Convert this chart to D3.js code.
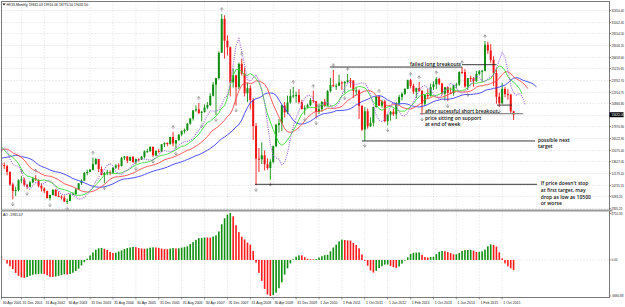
<!DOCTYPE html>
<html>
<head>
<meta charset="utf-8">
<script src="https://cdn.jsdelivr.net/npm/d3@7"></script>
<style>
  body { margin: 0; background: #fff; }
  svg { display: block; font-family: "Liberation Sans", Arial, sans-serif; }
</style>
</head>
<body>
<svg width="625" height="307"></svg>
<script>
// HK33 monthly bars, Jan 1998 .. Jan 2016 (estimated).
// 1998 .. Mar 2001 are off screen, they only give the indicators some history.
// The feed has 2 extra bars early 2010 and 2 bars for Jan 2016.
const opens = [
  10723, 9251, 11480, 11518, 10211, 8960, 8543, 7923, 7275, 7883, 10154, 10402,
  10049, 9506, 9858, 10942, 13089, 12712, 13532, 12849, 13532, 12733, 13256, 15377,
  16962, 15532, 17169, 17407, 15519, 14713, 16155, 16841, 17097, 15649, 14895, 14638,
  15096, 16102, 14788, 12761, 13386, 13174, 13043, 12316, 10767, 9951, 10073, 11279,
  11397, 10725, 10482, 11033, 11497, 11302, 10599, 10268, 9931, 9072, 9441, 10070,
  9321, 9258, 9123, 8634, 8717, 9487, 9577, 10134, 10909, 11229, 12190, 12317,
  12576, 13289, 13918, 12682, 11942, 12198, 12286, 12238, 12850, 13120, 13054, 14060,
  14230, 13721, 14195, 13516, 13908, 13868, 14201, 14880, 14903, 15429, 14386, 14937,
  14876, 15753, 15918, 15805, 16661, 15857, 16267, 16971, 17392, 17543, 18324, 18960,
  19965, 20106, 19652, 19801, 20318, 20635, 21773, 23185, 23984, 27142, 31352, 28643,
  27813, 23456, 24332, 22849, 25755, 24533, 22102, 22731, 21261, 18016, 13969, 13888,
  14387, 13278, 12811, 13576, 15521, 18171, 18378, 20573, 19724, 20955, 21752, 21821,
  21872, 21000, 20122, 20300, 20608, 21239, 21108, 19765, 20129, 21029, 20536, 22358, 23096, 23007,
  23035, 23447, 23338, 23528, 23720, 23684, 22398, 22440, 20535, 17592, 19864, 17989,
  18434, 20390, 21680, 20556, 21094, 18630, 19441, 19796, 19482, 20840, 21641, 22030,
  22657, 23730, 23020, 22300, 22737, 22392, 20803, 21883, 21731, 22860, 23206, 23881,
  23306, 22035, 22837, 22151, 22134, 23082, 23191, 24757, 24742, 22933, 23998, 23987,
  23605, 24507, 24823, 24901, 28133, 27424, 26250, 24636, 21671, 20846, 22640, 21996,
  21914, 19841
];
const highs = [
  11300, 11900, 11900, 11600, 10500, 9200, 8900, 8200, 8600, 10500, 10800, 10600,
  10200, 10300, 11100, 13200, 13400, 14000, 14000, 13700, 13800, 13300, 15500, 17000,
  18000, 17400, 18397, 17500, 15600, 16300, 17100, 17600, 17200, 15900, 15400, 15200,
  16300, 16200, 14800, 13500, 14000, 13500, 13200, 12400, 11000, 10500, 11400, 11800,
  11600, 10800, 11200, 11700, 11900, 11400, 10900, 10400, 10000, 9500, 10200, 10200,
  9900, 9400, 9400, 9000, 9600, 9800, 10300, 10900, 11400, 12300, 12600, 12700,
  14100, 14058, 13900, 13000, 12300, 12600, 12500, 12900, 13300, 13400, 14200, 14300,
  14300, 14200, 14300, 14000, 14000, 14300, 15000, 15200, 15500, 15500, 15000, 15200,
  15800, 16000, 16000, 16700, 17300, 16300, 17000, 17500, 17700, 18400, 19000, 20000,
  20600, 20900, 19900, 20700, 21000, 22100, 23500, 24000, 27300, 31958, 31800, 29300,
  27900, 25200, 24400, 25900, 26400, 25300, 23400, 23100, 21500, 18400, 15300, 16000,
  15000, 14000, 13900, 15600, 18300, 18900, 20700, 21000, 21800, 22600, 22900, 22300,
  22600, 21300, 20600, 20800, 21500, 22400, 21100, 20800, 21100, 21400, 22500, 24000, 24988, 23300,
  24400, 23600, 23600, 24500, 24000, 23700, 22900, 22600, 20600, 20400, 20200, 19100,
  20400, 21760, 21800, 21300, 21300, 19500, 19900, 20200, 21000, 21900, 22200, 22700,
  23800, 23900, 23300, 22800, 23500, 22500, 22000, 22600, 23300, 23600, 24100, 24000,
  23400, 22900, 22900, 22800, 23100, 23400, 24800, 25362, 25100, 23800, 24300, 24100,
  24900, 25000, 25000, 28588, 28500, 28200, 26700, 25200, 22200, 23400, 22900, 22600,
  22050, 19914
];
const lows = [
  8000, 9200, 10900, 10100, 8800, 7900, 7700, 6660, 7100, 7800, 9900, 9700,
  9100, 9300, 9800, 10900, 12300, 12400, 12600, 12500, 12400, 12300, 13200, 15000,
  15300, 15300, 16400, 15000, 13600, 14500, 15900, 16500, 15300, 14400, 14200, 14300,
  15000, 14700, 12500, 11900, 12900, 12700, 11900, 10600, 8894, 9300, 9900, 10900,
  10500, 10200, 10400, 10900, 11200, 10400, 9900, 9700, 9000, 8772, 9400, 9300,
  9200, 8900, 8600, 8331, 8700, 9400, 9400, 10100, 10700, 11200, 11900, 12300,
  12500, 13200, 12300, 11900, 10918, 11900, 11900, 12100, 12700, 12600, 13000, 13800,
  13400, 13700, 13500, 13300, 13600, 13800, 14000, 14700, 14800, 14200, 14300, 14700,
  14800, 15400, 15500, 15700, 15500, 15200, 16200, 16800, 17100, 17400, 18200, 18700,
  19800, 19500, 18600, 19700, 20100, 20500, 21700, 19386, 23800, 27100, 26400, 26800,
  21709, 22800, 20572, 22600, 24300, 21700, 21000, 20100, 16300, 10676, 12300, 13300,
  12500, 12600, 11345, 13400, 15400, 17200, 17400, 19100, 19500, 20800, 21500, 20900,
  20800, 20100, 19423, 20200, 20500, 20900, 18971, 19500, 19800, 20400, 20500, 22200, 22900, 22500,
  23000, 22500, 22100, 23400, 22800, 21500, 21900, 18900, 17400, 16170, 17700, 17900,
  18000, 20300, 20500, 20300, 18500, 18100, 18700, 19300, 18900, 20600, 21200, 21900,
  22600, 22700, 22000, 21500, 22300, 19426, 20500, 21400, 21700, 22500, 22600, 23100,
  21900, 21200, 21100, 22000, 21800, 22700, 23000, 24500, 22800, 22500, 23500, 22900,
  23500, 24300, 23500, 24800, 27000, 25900, 23000, 20800, 20400, 20800, 21600, 21300,
  19600, 18775
];
const closes = [
  9251, 11480, 11518, 10211, 8960, 8543, 7923, 7275, 7883, 10154, 10402, 10049,
  9506, 9858, 10942, 13089, 12712, 13532, 12849, 13532, 12733, 13256, 15377, 16962,
  15532, 17169, 17407, 15519, 14713, 16155, 16841, 17097, 15649, 14895, 14638, 15096,
  16102, 14788, 12761, 13386, 13174, 13043, 12316, 10767, 9951, 10073, 11279, 11397,
  10725, 10482, 11033, 11497, 11302, 10599, 10268, 9931, 9072, 9441, 10070, 9321,
  9258, 9123, 8634, 8717, 9487, 9577, 10134, 10909, 11229, 12190, 12317, 12576,
  13289, 13918, 12682, 11942, 12198, 12286, 12238, 12850, 13120, 13054, 14060, 14230,
  13721, 14195, 13516, 13908, 13868, 14201, 14880, 14903, 15429, 14386, 14937, 14876,
  15753, 15918, 15805, 16661, 15857, 16267, 16971, 17392, 17543, 18324, 18960, 19965,
  20106, 19652, 19801, 20318, 20635, 21773, 23185, 23984, 27142, 31352, 28643, 27813,
  23456, 24332, 22849, 25755, 24533, 22102, 22731, 21261, 18016, 13969, 13888, 14387,
  13278, 12811, 13576, 15521, 18171, 18378, 20573, 19724, 20955, 21752, 21821, 21872,
  21000, 20122, 20300, 20608, 21239, 21108, 19765, 20129, 21029, 20536, 22358, 23096, 23007, 23035,
  23447, 23338, 23528, 23720, 23684, 22398, 22440, 20535, 17592, 19864, 17989, 18434,
  20390, 21680, 20556, 21094, 18630, 19441, 19796, 19482, 20840, 21641, 22030, 22657,
  23730, 23020, 22300, 22737, 22392, 20803, 21883, 21731, 22860, 23206, 23881, 23306,
  22035, 22837, 22151, 22134, 23082, 23191, 24757, 24742, 22933, 23998, 23987, 23605,
  24507, 24823, 24901, 28133, 27424, 26250, 24636, 21671, 20846, 22640, 21996, 21914,
  19841, 19432
];

// bottom axis, one label every 8 bars from the first bar on screen
const dateLabels = ["30 Apr 2001", "31 Dec 2001", "31 Aug 2002", "30 Apr 2003", "31 Dec 2003",
  "31 Aug 2004", "30 Apr 2005", "31 Dec 2005", "31 Aug 2006", "30 Apr 2007", "31 Dec 2007",
  "31 Aug 2008", "30 Apr 2009", "31 Dec 2009", "1 Jun 2010", "1 Feb 2011", "1 Oct 2011",
  "1 Jun 2012", "1 Feb 2013", "1 Oct 2013", "1 Jun 2014", "1 Feb 2015", "1 Oct 2015"];
const priceTicks = [7835.25, 9283.20, 10731.15, 12179.10, 13627.05, 15075.00, 16522.95,
  17970.90, 19418.85, 20866.80, 22314.75, 23762.70, 25210.65, 26658.60, 28106.55,
  29554.50, 31002.45, 32450.40];

const titleText = "HK33,Monthly  19841.03 19914.06 18775.50 19432.50";
const aoTitle = "AO -1931.07";

// hand drawn lines: [from bar, to bar, price]
const drawnLines = [
  [154.8, 201, 25360],
  [201, 213, 25650],
  [186.3, 222.3, 19560],
  [213.2, 218.4, 20630],
  [166, 226.5, 16170],
  [128.6, 227.2, 10780]
];
// text notes: first baseline at [bar, price]
const notes = [
  {bar: 182.8, price: 25540, lines: ["failed long breakouts"]},
  {bar: 188, price: 19640, lines: ["after sucessful short breakout,", "price sitting on support", "at end of week"]},
  {bar: 227.5, price: 16080, lines: ["possible next", "target"]},
  {bar: 228.5, price: 10640, lines: ["If price doesn't stop", "at first target, may", "drop as low as 10500", "or worse"]}
];

const firstBar = 39;   // 30 Apr 2001 is the first bar on screen
const svg = d3.select("svg");
const main = {left: 1.5, right: 609.5, top: 1.5, bottom: 210};
const sub = {top: 212, bottom: 297};

const x = d3.scaleLinear().domain([firstBar, firstBar + 180]).range([-1.5, 513.6]);
const y = d3.scaleLinear().domain([priceTicks[0], priceTicks[priceTicks.length - 1]]).range([208, 10]);

const bars = opens.map((o, i) => ({i, o, h: highs[i], l: lows[i], c: closes[i], m: (highs[i] + lows[i]) / 2}));
const shown = bars.filter(d => d.i >= firstBar);

// indicators (Alligator, AO, fractals) worked out from the bars
function smma(n) {
  const out = [];
  let v = null;
  bars.forEach((d, i) => {
    if (i < n - 1) { out.push(null); return; }
    if (v === null) v = d3.mean(bars.slice(i - n + 1, i + 1), b => b.m);
    else v = (v * (n - 1) + d.m) / n;
    out.push(v);
  });
  return out;
}
function sma(n) {
  return bars.map((d, i) => i < n - 1 ? null : d3.mean(bars.slice(i - n + 1, i + 1), b => b.m));
}
const lines = [
  {vals: smma(13), shift: 8, color: "#3b3bff", dash: null},
  {vals: smma(8), shift: 5, color: "#ff4a4a", dash: null},
  {vals: smma(5), shift: 3, color: "#3ddc3d", dash: null},
  {vals: sma(3), shift: 4, color: "#a064e0", dash: "1,1.2"}
];
const s5 = sma(5), s34 = sma(34);
const ao = bars.map((d, i) => s34[i] === null ? null : s5[i] - s34[i]);

const defs = svg.append("defs");
defs.append("clipPath").attr("id", "clipMain").append("rect")
  .attr("x", main.left).attr("y", main.top).attr("width", main.right - main.left).attr("height", main.bottom - main.top);
defs.append("clipPath").attr("id", "clipSub").append("rect")
  .attr("x", main.left).attr("y", sub.top).attr("width", main.right - main.left).attr("height", sub.bottom - sub.top);

svg.append("rect").attr("width", 625).attr("height", 307).attr("fill", "#fff");

// grid
const tickBars = dateLabels.map((_, k) => firstBar + k * 8);
const grid = svg.append("g").attr("stroke", "#cfcfcf").attr("stroke-dasharray", "1,2").attr("stroke-width", 0.7);
grid.selectAll(".h").data(priceTicks).enter().append("line")
  .attr("x1", main.left).attr("x2", main.right)
  .attr("y1", d => Math.round(y(d)) + 0.5).attr("y2", d => Math.round(y(d)) + 0.5);
grid.selectAll(".v").data(tickBars.slice(1)).enter().append("line")
  .attr("x1", d => x(d)).attr("x2", d => x(d))
  .attr("y1", main.top).attr("y2", sub.bottom);

// candles
const mainG = svg.append("g").attr("clip-path", "url(#clipMain)");
const candle = mainG.append("g").selectAll("g").data(shown).enter().append("g")
  .attr("fill", d => d.c >= d.o ? "#0f8f0f" : "#f01414")
  .attr("stroke", d => d.c >= d.o ? "#0f8f0f" : "#f01414");
candle.append("line")
  .attr("x1", d => x(d.i)).attr("x2", d => x(d.i))
  .attr("y1", d => y(d.h)).attr("y2", d => y(d.l)).attr("stroke-width", 0.9);
candle.append("rect")
  .attr("x", d => x(d.i) - 1).attr("width", 2).attr("stroke", "none")
  .attr("y", d => y(Math.max(d.o, d.c)))
  .attr("height", d => Math.max(1, Math.abs(y(d.o) - y(d.c))));

// alligator + dotted average
lines.forEach(l => {
  const pts = l.vals.map((v, i) => [i + l.shift, v]).filter(p => p[1] !== null && p[0] >= firstBar - 2);
  mainG.append("path").datum(pts)
    .attr("fill", "none").attr("stroke", l.color).attr("stroke-width", l.dash ? 1.1 : 0.9)
    .attr("stroke-dasharray", l.dash)
    .attr("d", d3.line().x(p => x(p[0])).y(p => y(p[1])));
});

// fractals, small grey arrows
const fractals = [];
bars.forEach((d, i) => {
  if (i < 2 || i > bars.length - 3 || i < firstBar) return;
  const nb = [i - 2, i - 1, i + 1, i + 2];
  if (nb.every(j => bars[j].h < d.h)) fractals.push({i, up: true, p: d.h});
  if (nb.every(j => bars[j].l > d.l)) fractals.push({i, up: false, p: d.l});
});
mainG.append("g").selectAll("path").data(fractals).enter().append("path")
  .attr("transform", d => `translate(${x(d.i)},${y(d.p) + (d.up ? -4.5 : 4.5)}) scale(1,${d.up ? 1 : -1})`)
  .attr("d", "M-1.5,0.3L0,-1.8L1.5,0.3M0,-1.8L0,1.8")
  .attr("fill", "none").attr("stroke", "#8c8c8c").attr("stroke-width", 0.7);

// drawn lines + notes
const noteG = svg.append("g");
noteG.selectAll("line").data(drawnLines).enter().append("line")
  .attr("x1", d => x(d[0])).attr("x2", d => x(d[1]))
  .attr("y1", d => y(d[2])).attr("y2", d => y(d[2]))
  .attr("stroke", (d, i) => i === 2 ? "#8c8c8c" : "#222").attr("stroke-width", (d, i) => i === 2 ? 1.2 : 0.9);
notes.forEach(n => {
  const t = noteG.append("text").attr("font-size", 5).attr("font-weight", 600).attr("fill", "#111")
    .attr("font-family", "'Open Sans', 'Liberation Sans', sans-serif");
  n.lines.forEach((s, k) => t.append("tspan").attr("x", x(n.bar)).attr("y", y(n.price) + k * 6.6).text(s));
});

// AO panel
const visAO = ao.filter((v, i) => i >= firstBar && v !== null);
const aoMax = d3.max(visAO), aoMin = d3.min(visAO);
const ya = d3.scaleLinear().domain([aoMin, aoMax]).range([sub.bottom - 1, sub.top + 1]);
const subG = svg.append("g").attr("clip-path", "url(#clipSub)");
subG.append("line").attr("x1", main.left).attr("x2", main.right)
  .attr("y1", ya(0)).attr("y2", ya(0)).attr("stroke", "#d0d0d0").attr("stroke-dasharray", "1,2").attr("stroke-width", 0.7);
subG.selectAll("rect").data(shown.filter(d => ao[d.i] !== null)).enter().append("rect")
  .attr("x", d => x(d.i) - 0.8).attr("width", 1.6)
  .attr("y", d => Math.min(ya(0), ya(ao[d.i])))
  .attr("height", d => Math.abs(ya(ao[d.i]) - ya(0)))
  .attr("fill", d => ao[d.i] > ao[d.i - 1] ? "#0f900f" : "#ff1a1a");

// frames
svg.append("rect").attr("x", main.left).attr("y", main.top)
  .attr("width", main.right - main.left).attr("height", sub.bottom + 0.5 - main.top)
  .attr("fill", "none").attr("stroke", "#7a7a7a").attr("stroke-width", 1);
svg.append("rect").attr("x", main.left).attr("y", main.bottom - 0.5)
  .attr("width", main.right - main.left + 3).attr("height", 2).attr("fill", "#9a9a9a");

// right axis
const axisG = svg.append("g").attr("font-size", 3).attr("fill", "#222");
priceTicks.forEach(p => {
  const yy = Math.round(y(p)) + 0.5;
  axisG.append("line").attr("x1", main.right).attr("x2", main.right + 1.5).attr("y1", yy).attr("y2", yy).attr("stroke", "#555").attr("stroke-width", 0.6);
  axisG.append("text").attr("x", 611.5).attr("y", yy).attr("dy", "0.35em").text(p.toFixed(2));
});
[aoMax, 0, aoMin].forEach((v, k) => {
  const yy = k === 0 ? sub.top + 1.5 : (k === 2 ? sub.bottom - 1 : ya(0));
  axisG.append("line").attr("x1", main.right).attr("x2", main.right + 1.5).attr("y1", yy).attr("y2", yy).attr("stroke", "#555").attr("stroke-width", 0.6);
  axisG.append("text").attr("x", 611.5).attr("y", yy).attr("dy", "0.35em").text(v.toFixed(2));
});

// current price tag
const last = bars[bars.length - 1];
const tagY = y(last.c);
svg.append("rect").attr("x", main.right).attr("y", tagY - 2.5).attr("width", 14).attr("height", 5).attr("fill", "#000");
svg.append("text").attr("x", 611.5).attr("y", tagY).attr("dy", "0.35em").attr("font-size", 3).attr("fill", "#fff").text(last.c.toFixed(2));

// bottom axis
const dateG = svg.append("g").attr("font-size", 3.5).attr("fill", "#222");
tickBars.forEach((b, k) => {
  const xx = Math.max(x(b), 1.5);
  dateG.append("line").attr("x1", xx).attr("x2", xx).attr("y1", sub.bottom).attr("y2", sub.bottom + 2.5).attr("stroke", "#555").attr("stroke-width", 0.6);
  dateG.append("text").attr("x", xx + 1.2).attr("y", 304).text(dateLabels[k]);
});

// titles
svg.append("path").attr("d", "M2.5,3.5L5.5,3.5L4,5.6Z").attr("fill", "#111");
svg.append("text").attr("x", 6.5).attr("y", 5.8).attr("font-size", 3.4).attr("fill", "#111").text(titleText);
svg.append("text").attr("x", 3).attr("y", 215.5).attr("font-size", 3.5).attr("fill", "#111").text(aoTitle);
</script>
</body>
</html>
